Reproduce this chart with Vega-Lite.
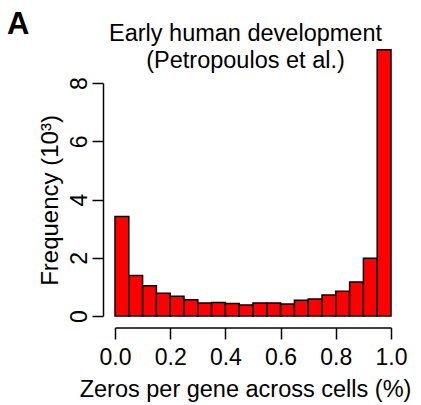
{
  "$schema": "https://vega.github.io/schema/vega-lite/v6.json",
  "width": 276,
  "height": 233,
  "autosize": {"type": "none"},
  "padding": {"left": 115, "top": 83, "right": 30, "bottom": 89},
  "background": "white",
  "config": {
    "view": {"stroke": null},
    "font": "Liberation Sans",
    "axis": {"grid": false, "domainColor": "black", "tickColor": "black", "labelColor": "black", "titleColor": "black", "domainWidth": 1.5, "tickWidth": 1.5, "labelFont": "Liberation Sans", "titleFont": "Liberation Sans", "titleFontWeight": "normal"}
  },
  "title": {
    "text": "A",
    "anchor": "start",
    "frame": "group",
    "fontSize": 31,
    "fontWeight": "bold",
    "font": "Liberation Sans",
    "color": "black",
    "dx": -108,
    "dy": 48,
    "baseline": "alphabetic"
  },
  "data": {
    "values": [
      {"start": 0.00, "end": 0.05, "freq": 3.42},
      {"start": 0.05, "end": 0.10, "freq": 1.39},
      {"start": 0.10, "end": 0.15, "freq": 1.04},
      {"start": 0.15, "end": 0.20, "freq": 0.78},
      {"start": 0.20, "end": 0.25, "freq": 0.68},
      {"start": 0.25, "end": 0.30, "freq": 0.56},
      {"start": 0.30, "end": 0.35, "freq": 0.45},
      {"start": 0.35, "end": 0.40, "freq": 0.46},
      {"start": 0.40, "end": 0.45, "freq": 0.43},
      {"start": 0.45, "end": 0.50, "freq": 0.38},
      {"start": 0.50, "end": 0.55, "freq": 0.45},
      {"start": 0.55, "end": 0.60, "freq": 0.45},
      {"start": 0.60, "end": 0.65, "freq": 0.41},
      {"start": 0.65, "end": 0.70, "freq": 0.54},
      {"start": 0.70, "end": 0.75, "freq": 0.58},
      {"start": 0.75, "end": 0.80, "freq": 0.72},
      {"start": 0.80, "end": 0.85, "freq": 0.85},
      {"start": 0.85, "end": 0.90, "freq": 1.17},
      {"start": 0.90, "end": 0.95, "freq": 1.98},
      {"start": 0.95, "end": 1.00, "freq": 9.14}
    ]
  },
  "layer": [
    {
      "mark": {"type": "bar", "fill": "#FF0000", "stroke": "black", "strokeWidth": 1.5, "clip": false},
      "encoding": {
        "x": {
          "field": "start", "type": "quantitative",
          "scale": {"domain": [0, 1], "nice": false, "zero": false},
          "axis": {
            "orient": "bottom", "offset": 11.5, "tickSize": 11.5, "values": [0, 0.2, 0.4, 0.6, 0.8, 1.0],
            "format": ".1f", "labelFontSize": 23, "labelPadding": 7, "labelFlush": false,
            "title": "Zeros per gene across cells (%)", "titleFontSize": 23.5,
            "titleX": 130, "titleY": 69, "titleAlign": "center", "titleBaseline": "alphabetic"
          }
        },
        "x2": {"field": "end"},
        "y": {
          "field": "freq", "type": "quantitative",
          "scale": {"domain": [0, 8], "nice": false},
          "axis": {
            "orient": "left", "offset": 12, "tickSize": 11, "values": [0, 2, 4, 6, 8],
            "labelAngle": 270, "labelAlign": "center", "labelBaseline": "alphabetic", "labelPadding": 6, "labelFontSize": 23, "labelFlush": false,
            "title": "Frequency (10³)", "titleFontSize": 24, "titleAngle": 270,
            "titleX": -46, "titleY": 117, "titleAlign": "center", "titleBaseline": "alphabetic"
          }
        },
        "y2": {"datum": 0}
      }
    },
    {
      "mark": {"type": "rule", "opacity": 0},
      "encoding": {
        "x": {
          "field": "start", "type": "quantitative",
          "axis": {
            "orient": "top", "labels": false, "ticks": false, "domain": false,
            "title": ["Early human development", "(Petropoulos et al.)"],
            "titleFontSize": 23.5, "titleLineHeight": 27,
            "titleX": 130, "titleY": -42.6, "titleAlign": "center", "titleBaseline": "alphabetic"
          }
        }
      }
    }
  ],
  "resolve": {"axis": {"x": "independent"}}
}
